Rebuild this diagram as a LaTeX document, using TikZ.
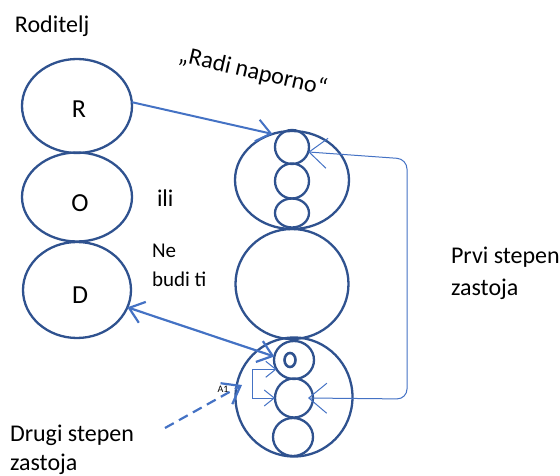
\documentclass[tikz,border=0pt]{standalone}
\usepackage{fontspec}
\setmainfont{Carlito}
\definecolor{outline}{HTML}{2F528F}
\definecolor{arrowblue}{HTML}{4472C4}
\usetikzlibrary{arrows.meta}
\usetikzlibrary{shapes.geometric}
\tikzstyle{base}=[x=1pt, y=-1pt, inner sep=0pt, outer sep=0pt]
\tikzstyle{ego}=[draw=outline, line width=2.3pt, ellipse, inner sep=0pt]
\tikzstyle{bigtext}=[font=\fontsize{24}{29}\selectfont, align=left, anchor=base west]
\tikzstyle{letter}=[font=\fontsize{26}{30}\selectfont]
\tikzstyle{link}=[draw=arrowblue, line width=2pt, arrows={[length=14pt, width=22pt]}]
\tikzstyle{loop}=[draw=arrowblue, line width=1pt, arrows={[length=18pt, width=30pt]}]

\begin{document}
\begin{tikzpicture}[base]
    \useasboundingbox (0,0) rectangle (560,476);
    % ego states of the parent
    \node [ego, minimum width=110pt, minimum height=94pt] (R) at (77,106) {};
    \node [ego, minimum width=110pt, minimum height=89pt] (O) at (77,197) {};
    \node [ego, minimum width=108pt, minimum height=96pt] (D) at (77,290) {};
    \node [letter] (Rl) at (79,109) {R};
    \node [letter] (Ol) at (80,203) {O};
    \node [letter] (Dl) at (80,295) {D};
    % ego states of the child
    \node [ego, minimum width=114pt, minimum height=98pt] (top) at (292,180) {};
    \node [ego, minimum width=113pt, minimum height=110pt] (mid) at (292,284) {};
    \node [ego, minimum width=117pt, minimum height=119pt] (bot) at (294,397) {};
    \node [ego, minimum width=34pt, minimum height=34pt] (t1) at (292,147) {};
    \node [ego, minimum width=34pt, minimum height=35pt] (t2) at (292,181) {};
    \node [ego, minimum width=34pt, minimum height=29pt] (t3) at (292,213) {};
    \node [ego, minimum width=40pt, minimum height=38pt] (b1) at (294,360) {};
    \node [ego, minimum width=38pt, minimum height=39pt] (b2) at (294,398) {};
    \node [ego, minimum width=40pt, minimum height=38pt] (b3) at (293,437) {};
    \node [ego, line width=2.6pt, minimum width=11pt, minimum height=14pt] (b0) at (290,360) {};
    % texts (base of a two-line node is its last line)
    \node [bigtext] (roditelj) at (15,33) {Roditelj};
    \node [font=\fontsize{24}{29}\selectfont, rotate=-13] (radi) at (253,72) {„Radi naporno“};
    \node [bigtext] (ili) at (157,207) {ili};
    \node [bigtext, font=\fontsize{21}{29}\selectfont] (nebudi) at (152,286) {Ne\\budi ti};
    \node [bigtext, font=\fontsize{24}{32}\selectfont] (prvi) at (451,295) {Prvi stepen\\zastoja};
    \node [bigtext] (drugi) at (10,470) {Drugi stepen\\zastoja};
    \node [font=\fontsize{10}{12}\selectfont] (a1) at (223,389) {A1};
    % connectors
    \draw [link, -Straight Barb] (R.4) -- (top.113);
    \draw [link, line width=2.2pt, Straight Barb-Straight Barb] (D.-19) -- (b1.170);
    \coordinate (b2in) at ([xshift=-5pt]b2.east);
    \draw [loop, Straight Barb-Straight Barb, rounded corners=10pt] (t1.-17) -- (407,159) -- (407,399) -- (b2in);
    \draw [loop, arrows={[length=10pt, width=16pt]}, Straight Barb-Straight Barb] (b1.208) -- ++(-24,0) |- (b2.west);
    \coordinate (dstart) at (165,428);
    \coordinate (dtip) at (242,385);
    \draw [link, line width=2.2pt, dash pattern=on 10pt off 6pt, arrows={[length=16pt, width=24pt]}, -Straight Barb] (dstart) -- (dtip);
\end{tikzpicture}
\end{document}
